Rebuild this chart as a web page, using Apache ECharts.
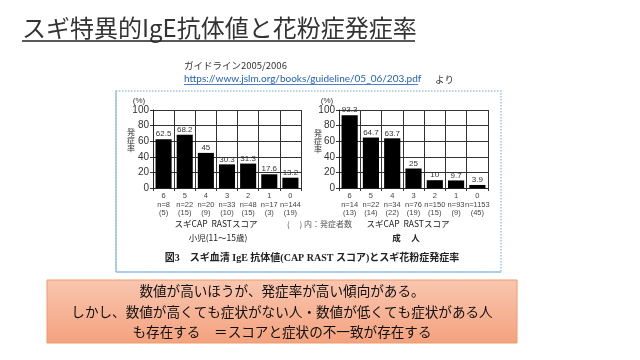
<!DOCTYPE html>
<html><head><meta charset="utf-8">
<script src="https://cdn.jsdelivr.net/npm/echarts@6/dist/echarts.min.js"></script>
<style>html,body{margin:0;padding:0;background:#fff}#c{width:640px;height:360px}</style>
</head><body><div id="c"></div>
<script>
const scores = ['6','5','4','3','2','1','0'];
const childN = [8,22,20,33,48,17,144];
const childCases = [5,15,9,10,15,3,19];
const childRate = [62.5,68.2,45,30.3,31.3,17.6,13.2];
const adultN = [14,22,34,76,150,93,1153];
const adultCases = [13,14,22,19,15,9,45];
const adultRate = [93.3,64.7,63.7,25,10,9.7,3.9];
const yMax = 100, yStep = 20;

const titleText = 'スギ特異的IgE抗体値と花粉症発症率';
const sourceText = 'ガイドライン2005/2006';
const linkText = 'https://www.jslm.org/books/guideline/05_06/203.pdf';
const boxLines = ['数値が高いほうが、発症率が高い傾向がある。',
  'しかし、数値が高くても症状がない人・数値が低くても症状がある人',
  'も存在する　＝スコアと症状の不一致が存在する'];

const JP = '"Noto Sans CJK JP", sans-serif';
const FIG = '"Liberation Sans", "Noto Sans CJK JP", sans-serif';
const chart = echarts.init(document.getElementById('c'), null, {renderer:'canvas', width:640, height:360});

function cats(n, c){ return scores.map((s,i)=> s + '\nn=' + n[i] + '\n(' + c[i] + ')'); }
function xAx(idx, n, c){
  return {type:'category', gridIndex:idx, data:cats(n,c), boundaryGap:true,
    axisLine:{lineStyle:{color:'#222', width:1}},
    axisTick:{show:true, length:3, lineStyle:{color:'#333'}},
    axisLabel:{fontSize:7.5, lineHeight:8.5, color:'#444', margin:4, fontFamily:FIG, interval:0},
    splitLine:{show:true, lineStyle:{color:'#333', width:1}}};
}
function yAx(idx){
  return {type:'value', gridIndex:idx, min:0, max:yMax, interval:yStep,
    axisLine:{show:true, lineStyle:{color:'#222'}},
    axisTick:{show:true, length:3, lineStyle:{color:'#333'}},
    axisLabel:{fontSize:10, color:'#333', margin:4, fontFamily:FIG},
    splitLine:{show:true, lineStyle:{color:'#333', width:1}}};
}
function bar(idx, data){
  return {type:'bar', xAxisIndex:idx, yAxisIndex:idx, data:data, barCategoryGap:'24%',
    itemStyle:{color:'#000'}, silent:true, animation:false,
    label:{show:true, position:'top', distance:1, fontSize:8, color:'#333', fontFamily:FIG}};
}
function txt(x, y, text, font, fill, align, extra){
  return Object.assign({type:'text', x:x, y:y, silent:true,
    style:Object.assign({text:text, font:font, fill:fill||'#333', align:align||'left', verticalAlign:'middle'}, extra||{})});
}

const graphics = [
  txt(22, 28, titleText, '24px ' + JP, '#333'),
  {type:'line', silent:true, shape:{x1:22,y1:41,x2:415,y2:41}, style:{stroke:'#222', lineWidth:1.5}},
  txt(184, 65, sourceText, '9.5px ' + JP, '#333'),
  txt(184, 79, linkText, '10px Lato, "Liberation Sans", sans-serif', '#1f5fbf'),
  {type:'line', silent:true, shape:{x1:184,y1:84.5,x2:418,y2:84.5}, style:{stroke:'#1f5fbf', lineWidth:0.8}},
  txt(435, 79, 'より', '9.5px ' + JP, '#333'),
  {type:'rect', silent:true, z:-10, shape:{x:116,y:91,width:385,height:181}, style:{fill:'#fff', stroke:'#9dc3e6', lineWidth:1.5, lineDash:[1.5,1.5]}},
  {type:'line', silent:true, z:-9, shape:{x1:116,y1:91,x2:116,y2:272}, style:{stroke:'#9dc3e6', lineWidth:1.5}},
  {type:'line', silent:true, z:-9, shape:{x1:116,y1:272,x2:501,y2:272}, style:{stroke:'#9dc3e6', lineWidth:1.5}},
  txt(139, 101, '(%)', '8px ' + FIG, '#333', 'center'),
  txt(131, 140, '発\n症\n率', '8px ' + JP, '#333', 'center', {lineHeight:8}),
  txt(327, 101, '(%)', '8px ' + FIG, '#333', 'center'),
  txt(318, 141, '発\n症\n率', '8px ' + JP, '#333', 'center', {lineHeight:8}),
  txt(216, 224, 'スギCAP  RASTスコア', '8.5px ' + JP, '#222', 'center'),
  txt(218, 238, '小児(11～15歳)', '8.5px ' + JP, '#222', 'center'),
  txt(287, 224, '(　 ) 内：発症者数', '8px ' + JP, '#555', 'left'),
  txt(408, 224, 'スギCAP  RASTスコア', '8.5px ' + JP, '#222', 'center'),
  txt(406, 238, '成　 人', 'bold 8.5px ' + JP, '#222', 'center'),
  txt(312, 258, '図3　スギ血清 IgE 抗体値(CAP RAST スコア)とスギ花粉症発症率', 'bold 10px "Liberation Serif", "Noto Sans CJK JP", serif', '#222', 'center'),
  {type:'rect', silent:true, shape:{x:47,y:280,width:470,height:63},
    style:{fill:new echarts.graphic.LinearGradient(0,0,0,1,[{offset:0,color:'#f9c6b0'},{offset:1,color:'#f4a27e'}]), stroke:'#f09a6c', lineWidth:1}},
];
boxLines.forEach((l,i)=> graphics.push(txt(282, 291 + i*20.5, l, '13.6px ' + JP, '#111', 'center')));

chart.setOption({
  backgroundColor:'#fff',
  animation:false,
  grid:[{left:153, top:110, width:148, height:78}, {left:339, top:110, width:149, height:78}],
  xAxis:[xAx(0, childN, childCases), xAx(1, adultN, adultCases)],
  yAxis:[yAx(0), yAx(1)],
  series:[bar(0, childRate), bar(1, adultRate)],
  graphic:graphics
});
</script></body></html>
